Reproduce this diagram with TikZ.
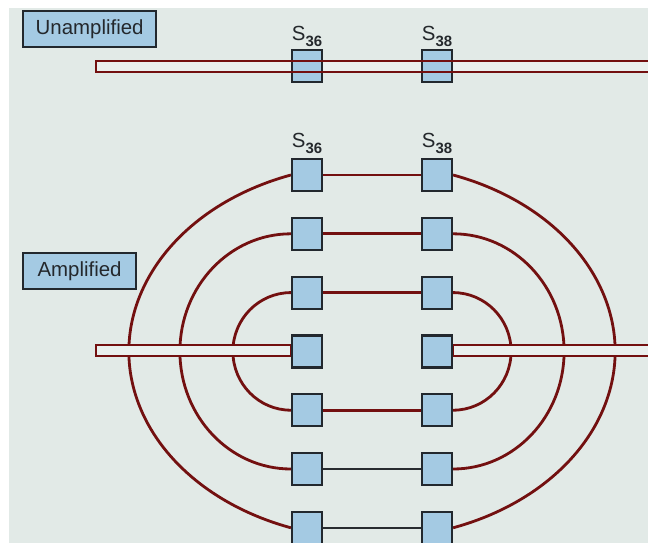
\documentclass[tikz,border=0pt]{standalone}
\usepackage{fontspec}
\setmainfont{Liberation Sans}
\definecolor{bgc}{RGB}{226,234,231}
\definecolor{barfill}{RGB}{234,240,238}
\definecolor{boxfill}{RGB}{164,202,227}
\definecolor{boxline}{RGB}{34,40,46}
\definecolor{wirec}{RGB}{115,16,16}
\definecolor{darkwire}{RGB}{40,44,48}
\definecolor{txt}{RGB}{36,40,44}
\pgfdeclarelayer{back}
\pgfdeclarelayer{mid}
\pgfsetlayers{back,mid,main}
\begin{document}
\begin{tikzpicture}[x=1bp,y=-1bp,
  site/.style={draw=boxline, line width=2.2bp, fill=boxfill, minimum width=30bp, minimum height=32bp, inner sep=0pt},
  tag/.style={draw=boxline, line width=2.2bp, fill=boxfill, minimum height=36bp, inner sep=0pt, anchor=north west, text=txt, font=\fontsize{20.5}{24}\selectfont},
  wire/.style={draw=wirec, line width=2.8bp},
  dwire/.style={draw=darkwire, line width=2.6bp},
  bar/.style={draw=wirec, line width=2.3bp, fill=barfill},
  lab/.style={text=txt, inner sep=0pt, anchor=south, font=\fontsize{20.5}{24}\selectfont}]
\useasboundingbox (0,0) rectangle (648,543);
\begin{pgfonlayer}{back}
  \fill[white] (0,0) rectangle (648,543);
  \fill[bgc] (9,8) rectangle (648,543);
\end{pgfonlayer}

% label boxes
\node[tag, minimum width=133bp] (un) at (22,10) {Unamplified};
\node[tag, minimum width=113bp] (am) at (22,252) {Amplified};

% unamplified section
\node[site] (t36) at (307,66) {};
\node[site] (t38) at (437,66) {};
\node[lab] (lt36) at ([yshift=2bp]t36.north) {S\raisebox{-6bp}{\fontsize{15}{15}\selectfont\bfseries 36}};
\node[lab] (lt38) at ([yshift=2bp]t38.north) {S\raisebox{-6bp}{\fontsize{15}{15}\selectfont\bfseries 38}};
\begin{pgfonlayer}{mid}
  \fill[barfill] (96,61) rectangle (660,72);
\end{pgfonlayer}
\draw[wirec, line width=2.3bp] (660,61) -- (96,61) -- (96,72) -- (660,72);

% amplified section
\foreach \i/\y in {1/175,2/233.8,3/292.6,4/351.4,5/410.2,6/469,7/527.8} {
  \node[site] (a\i) at (307,\y) {};
  \node[site] (b\i) at (437,\y) {};
}
\node[lab] (la36) at ([yshift=4bp]a1.north) {S\raisebox{-6bp}{\fontsize{15}{15}\selectfont\bfseries 36}};
\node[lab] (la38) at ([yshift=4bp]b1.north) {S\raisebox{-6bp}{\fontsize{15}{15}\selectfont\bfseries 38}};

\begin{pgfonlayer}{mid}
  % left arcs
  \draw[wire] (a1.west) arc[start angle=250.53, end angle=109.47, x radius=243, y radius=187.1];
  \draw[wire] (a2.west) arc[start angle=270, end angle=90, x radius=111, y radius=117.6];
  \draw[wire] (a3.west) arc[start angle=270, end angle=90, x radius=58, y radius=58.8];
  % right arcs
  \draw[wire] (b1.east) arc[start angle=-70.53, end angle=70.53, x radius=243, y radius=187.1];
  \draw[wire] (b2.east) arc[start angle=-90, end angle=90, x radius=111, y radius=117.6];
  \draw[wire] (b3.east) arc[start angle=-90, end angle=90, x radius=58, y radius=58.8];
  % middle bars
  \draw[bar] (96,345) rectangle (a4.west |- 0,356);
  \draw[bar] (b4.east |- 0,345) rectangle (660,356);
  % horizontal connectors
  \draw[wire] (a1) -- (b1);
  \draw[wire] (a2) -- (b2);
  \draw[wire] (a3) -- (b3);
  \draw[wire] (a5) -- (b5);
  \draw[dwire] (a6) -- (b6);
  \draw[dwire] (a7) -- (b7);
\end{pgfonlayer}
\end{tikzpicture}
\end{document}
